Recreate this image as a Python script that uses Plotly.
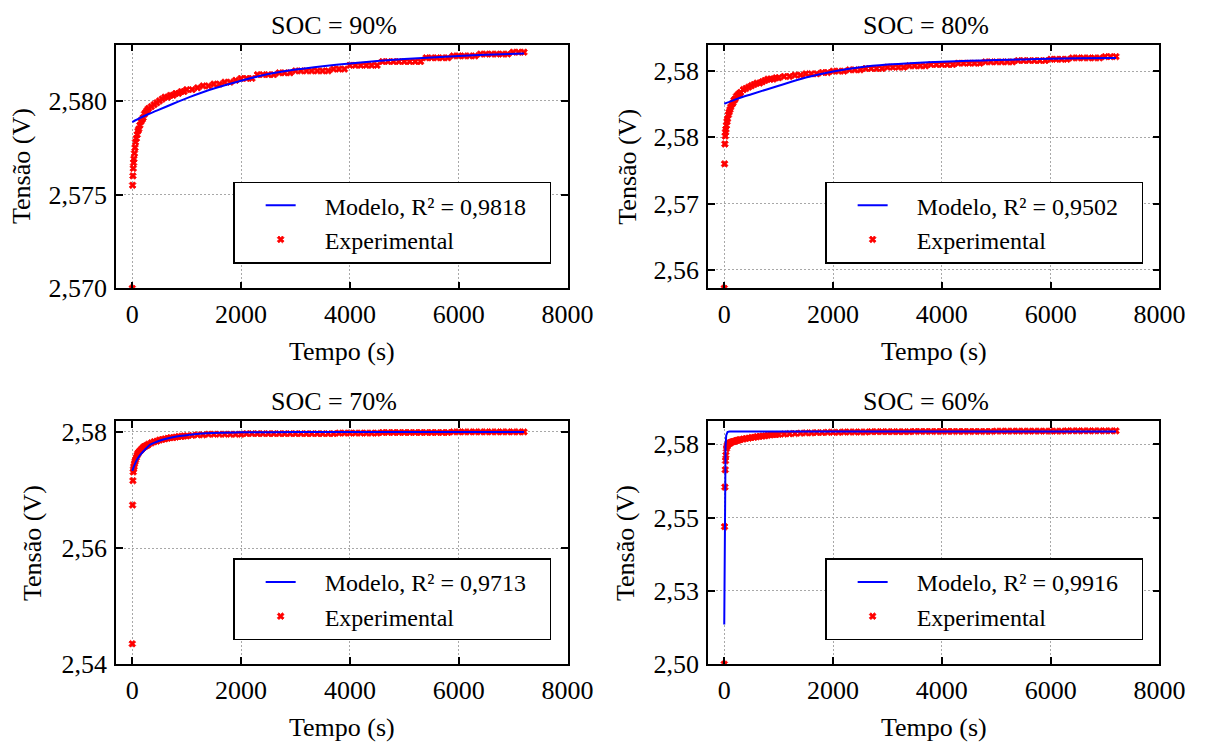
import plotly.graph_objects as go

# ---------------- data ----------------
# sampling instants of the experimental record (s)
T_EXP = [0, 6, 12, 18, 24, 30, 40, 50, 60, 75,
         90, 105, 120, 140, 160, 180, 200, 225, 250, 275,
         300, 350, 400, 450, 500, 550, 600, 650, 700, 750,
         800, 850, 900, 950,
         1000, 1100, 1200, 1300, 1400, 1500, 1600, 1700, 1800, 1900,
         2000, 2100, 2200, 2300, 2400, 2500, 2600, 2700, 2800, 2900,
         3000, 3100, 3200, 3300, 3400, 3500, 3600, 3700, 3800, 3900,
         4000, 4100, 4200, 4300, 4400, 4500, 4600, 4700, 4800, 4900,
         5000, 5100, 5200, 5300, 5400, 5500, 5600, 5700, 5800, 5900,
         6000, 6100, 6200, 6300, 6400, 6500, 6600, 6700, 6800, 6900,
         7000, 7100, 7200]

# measured voltage (V) for each SOC
V_EXP_90 = [2.5700, 2.5755, 2.5760, 2.5764, 2.5767, 2.5769, 2.5772, 2.5775, 2.5778, 2.5780,
            2.5782, 2.5784, 2.5785, 2.5787, 2.5789, 2.5790, 2.5791, 2.5793, 2.5794, 2.5795,
            2.5796, 2.5797, 2.5798, 2.5799, 2.5800, 2.5801, 2.5802, 2.5802, 2.5803, 2.5803,
            2.5804, 2.5804, 2.5805, 2.5805,
            2.5806, 2.5806, 2.5807, 2.5808, 2.5808, 2.5809, 2.5809, 2.5810, 2.5810, 2.5811,
            2.5812, 2.5812, 2.5812, 2.5814, 2.5814, 2.5814, 2.5814, 2.5815, 2.5815, 2.5815,
            2.5816, 2.5816, 2.5816, 2.5816, 2.5816, 2.5816, 2.5816, 2.5817, 2.5817, 2.5817,
            2.5819, 2.5819, 2.5819, 2.5819, 2.5819, 2.5819, 2.5821, 2.5821, 2.5821, 2.5821,
            2.5821, 2.5821, 2.5821, 2.5821, 2.5823, 2.5823, 2.5823, 2.5823, 2.5823, 2.5824,
            2.5824, 2.5824, 2.5824, 2.5824, 2.5825, 2.5825, 2.5825, 2.5825, 2.5825, 2.5825,
            2.5826, 2.5826, 2.5826]

V_EXP_80 = [2.5636, 2.5730, 2.5745, 2.5751, 2.5754, 2.5756, 2.5759, 2.5762, 2.5764, 2.5767,
            2.5769, 2.5771, 2.5773, 2.5775, 2.5776, 2.5778, 2.5779, 2.5781, 2.5782, 2.5783,
            2.5784, 2.5786, 2.5787, 2.5788, 2.5789, 2.5790, 2.5791, 2.5791, 2.5792, 2.5793,
            2.5794, 2.5794, 2.5794, 2.5795,
            2.5795, 2.5796, 2.5796, 2.5797, 2.5797, 2.5798, 2.5798, 2.5798, 2.5799, 2.5799,
            2.5800, 2.5800, 2.5800, 2.5801, 2.5801, 2.5801, 2.5802, 2.5802, 2.5802, 2.5802,
            2.5803, 2.5803, 2.5803, 2.5803, 2.5804, 2.5804, 2.5804, 2.5804, 2.5805, 2.5805,
            2.5805, 2.5805, 2.5805, 2.5806, 2.5806, 2.5806, 2.5806, 2.5806, 2.5807, 2.5807,
            2.5807, 2.5807, 2.5807, 2.5807, 2.5808, 2.5808, 2.5808, 2.5808, 2.5808, 2.5808,
            2.5809, 2.5809, 2.5809, 2.5809, 2.5810, 2.5810, 2.5810, 2.5810, 2.5810, 2.5810,
            2.5811, 2.5811, 2.5811]

V_EXP_70 = [2.5435, 2.5674, 2.5716, 2.5731, 2.5736, 2.5740, 2.5745, 2.5749, 2.5752, 2.5756,
            2.5760, 2.5763, 2.5765, 2.5767, 2.5769, 2.5771, 2.5773, 2.5775, 2.5776, 2.5777,
            2.5779, 2.5781, 2.5783, 2.5784, 2.5786, 2.5787, 2.5788, 2.5789, 2.5790, 2.5790,
            2.5791, 2.5792, 2.5792, 2.5793,
            2.5793, 2.5794, 2.5795, 2.5795, 2.5796, 2.5796, 2.5796, 2.5796, 2.5796, 2.5796,
            2.5796, 2.5797, 2.5797, 2.5797, 2.5797, 2.5797, 2.5797, 2.5797, 2.5797, 2.5797,
            2.5797, 2.5797, 2.5797, 2.5797, 2.5797, 2.5797, 2.5797, 2.5797, 2.5798, 2.5798,
            2.5798, 2.5798, 2.5798, 2.5798, 2.5798, 2.5798, 2.5799, 2.5799, 2.5799, 2.5799,
            2.5799, 2.5799, 2.5799, 2.5799, 2.5799, 2.5799, 2.5799, 2.5799, 2.5799, 2.5800,
            2.5800, 2.5800, 2.5800, 2.5800, 2.5800, 2.5800, 2.5800, 2.5800, 2.5800, 2.5800,
            2.5800, 2.5800, 2.5800]

V_EXP_60 = [2.5000, 2.5469, 2.5604, 2.5663, 2.5694, 2.5713, 2.5735, 2.5742, 2.5747, 2.5750,
            2.5753, 2.5755, 2.5756, 2.5758, 2.5759, 2.5760, 2.5761, 2.5763, 2.5764, 2.5765,
            2.5766, 2.5768, 2.5770, 2.5771, 2.5773, 2.5774, 2.5776, 2.5777, 2.5778, 2.5779,
            2.5781, 2.5782, 2.5783, 2.5783,
            2.5784, 2.5785, 2.5786, 2.5787, 2.5788, 2.5789, 2.5789, 2.5790, 2.5790, 2.5791,
            2.5791, 2.5791, 2.5792, 2.5792, 2.5792, 2.5792, 2.5792, 2.5793, 2.5793, 2.5793,
            2.5793, 2.5793, 2.5793, 2.5793, 2.5793, 2.5794, 2.5794, 2.5794, 2.5794, 2.5794,
            2.5794, 2.5794, 2.5794, 2.5794, 2.5794, 2.5794, 2.5794, 2.5794, 2.5794, 2.5794,
            2.5795, 2.5795, 2.5795, 2.5795, 2.5795, 2.5795, 2.5795, 2.5795, 2.5795, 2.5795,
            2.5795, 2.5795, 2.5795, 2.5796, 2.5796, 2.5796, 2.5796, 2.5796, 2.5796, 2.5796,
            2.5796, 2.5796, 2.5796]

# fitted model curves (time in s, voltage in V)
T_MOD_90 = [0, 150, 300, 450, 750, 1050, 1500, 2000, 2500, 3000, 3500, 4000, 4500, 5000, 5500, 6000, 6500, 7200]
V_MOD_90 = [2.57887, 2.57910, 2.57930, 2.57948, 2.57985, 2.58020, 2.58066, 2.58108, 2.58143, 2.58167,
            2.58185, 2.58200, 2.58213, 2.58223, 2.58232, 2.58240, 2.58246, 2.58253]

T_MOD_80 = [0, 250, 500, 1000, 1500, 2000, 2500, 3000, 3500, 4000, 4500, 5000, 5500, 6000, 6500, 7200]
V_MOD_80 = [2.57754, 2.57793, 2.57826, 2.57890, 2.57952, 2.57998, 2.58030, 2.58050, 2.58062, 2.58071,
            2.58078, 2.58084, 2.58089, 2.58093, 2.58097, 2.58100]

T_MOD_70 = [0, 50, 100, 150, 250, 330, 450, 570, 700, 870, 1050, 1230, 1650, 2000, 3000, 4500, 7200]
V_MOD_70 = [2.5733, 2.5745, 2.5754, 2.5761, 2.5771, 2.5778, 2.5783, 2.5787, 2.5790, 2.5793, 2.5795,
            2.5797, 2.57985, 2.57992, 2.57997, 2.57999, 2.5800]

T_MOD_60 = [0, 6, 12, 18, 24, 36, 48, 60, 78, 100, 200, 7200]
V_MOD_60 = [2.5135, 2.5450, 2.5610, 2.5700, 2.5744, 2.5780, 2.5790, 2.5792, 2.5793, 2.5794, 2.5794, 2.5794]

SOC_LABELS = ["SOC = 90%", "SOC = 80%", "SOC = 70%", "SOC = 60%"]
R2_LABELS = ["0,9818", "0,9502", "0,9713", "0,9916"]

X_TICKVALS = [0, 2000, 4000, 6000, 8000]
X_TICKTEXT = ["0", "2000", "4000", "6000", "8000"]

Y_TICKVALS = [[2.570, 2.575, 2.580],
              [2.565, 2.570, 2.575, 2.580],
              [2.54, 2.56, 2.58],
              [2.500, 2.525, 2.550, 2.575]]
Y_TICKTEXT = [["2,570", "2,575", "2,580"],
              ["2,56", "2,57", "2,58", "2,58"],
              ["2,54", "2,56", "2,58"],
              ["2,50", "2,53", "2,55", "2,58"]]
Y_RANGES = [[2.570, 2.583], [2.5636, 2.5820], [2.540, 2.5818], [2.500, 2.5828]]
X_RANGE = [-300, 8000]

T_MODELS = [T_MOD_90, T_MOD_80, T_MOD_70, T_MOD_60]
V_MODELS = [V_MOD_90, V_MOD_80, V_MOD_70, V_MOD_60]
V_EXPS = [V_EXP_90, V_EXP_80, V_EXP_70, V_EXP_60]

# ---------------- layout geometry (pixels) ----------------
W, H = 1208, 753
FONT = "Liberation Serif, Times New Roman, serif"
# plot frames: left, right, top, bottom
FRAMES = [(118.5, 580, 42.7, 292.3), (723.5, 1185, 42.7, 292.3),
          (118.5, 580, 428.7, 677.3), (723.5, 1185, 428.7, 677.3)]
YTITLE_X = [22, 641, 34, 640]
LEGEND_POS = [(238.3, 183), (843.3, 183), (238.3, 569), (843.3, 569)]
NBSP = "\u00a0"


def px(x):
    return x / W


def py(y):
    return 1 - y / H


fig = go.Figure()
annotations = []

for i in range(4):
    k = "" if i == 0 else str(i + 1)
    leg = "legend" + k
    left, right, top, bottom = FRAMES[i]

    fig.add_trace(go.Scatter(
        x=T_EXP, y=V_EXPS[i], mode="markers",
        name=NBSP * 4 + "Experimental",
        marker=dict(symbol="x", size=6, color="#ff0000", line=dict(width=0.8, color="#ff0000")),
        xaxis="x" + k, yaxis="y" + k, legend=leg, legendrank=2,
    ))
    fig.add_trace(go.Scatter(
        x=T_MODELS[i], y=V_MODELS[i], mode="lines",
        name=NBSP * 4 + "Modelo, R² = " + R2_LABELS[i] + NBSP * 3,
        line=dict(color="#0000ff", width=2, shape="linear" if i == 3 else "spline", smoothing=0.8),
        xaxis="x" + k, yaxis="y" + k, legend=leg, legendrank=1,
    ))

    axis_common = dict(
        showgrid=True, gridcolor="#a8a8a8", gridwidth=1, griddash="2px,2px",
        zeroline=False, showline=True, linecolor="black", linewidth=1.5, mirror="ticks",
        ticks="inside", ticklen=7, tickwidth=1.5, tickcolor="black",
        tickfont=dict(family=FONT, size=26, color="black"),
    )
    fig.layout["xaxis" + k] = dict(
        axis_common, domain=[px(left), px(right)], range=X_RANGE, anchor="y" + k,
        tickmode="array", tickvals=X_TICKVALS, ticktext=X_TICKTEXT,
        ticklabeloverflow="allow", ticklabelstandoff=2,
    )
    fig.layout["yaxis" + k] = dict(
        axis_common, domain=[py(bottom), py(top)], range=Y_RANGES[i], anchor="x" + k,
        tickmode="array", tickvals=Y_TICKVALS[i], ticktext=Y_TICKTEXT[i],
        ticklabelstandoff=2,
    )
    lx, ly = LEGEND_POS[i]
    fig.layout[leg] = dict(
        x=px(lx), y=py(ly), xanchor="left", yanchor="top",
        bgcolor="white", bordercolor="black", borderwidth=1.5,
        font=dict(family=FONT, size=24, color="black"),
        itemwidth=30, indentation=26, tracegroupgap=0,
    )

    cx = (left + right) / 2
    annotations.append(dict(
        text=SOC_LABELS[i], x=px(cx - 8), y=py(top - 20), xref="paper", yref="paper",
        xanchor="center", yanchor="middle", showarrow=False,
        font=dict(family=FONT, size=26, color="black"),
    ))
    annotations.append(dict(
        text="Tempo (s)", x=px(cx), y=py(bottom + 65), xref="paper", yref="paper",
        xanchor="center", yanchor="middle", showarrow=False,
        font=dict(family=FONT, size=26, color="black"),
    ))
    annotations.append(dict(
        text="Tensão (V)", x=px(YTITLE_X[i]), y=py((top + bottom) / 2), xref="paper", yref="paper",
        xanchor="center", yanchor="middle", showarrow=False, textangle=-90,
        font=dict(family=FONT, size=26, color="black"),
    ))

fig.update_layout(
    width=W, height=H, margin=dict(l=0, r=0, t=0, b=0),
    paper_bgcolor="white", plot_bgcolor="white",
    annotations=annotations, showlegend=True,
    font=dict(family=FONT, color="black"),
)

fig.write_html("out.html")
